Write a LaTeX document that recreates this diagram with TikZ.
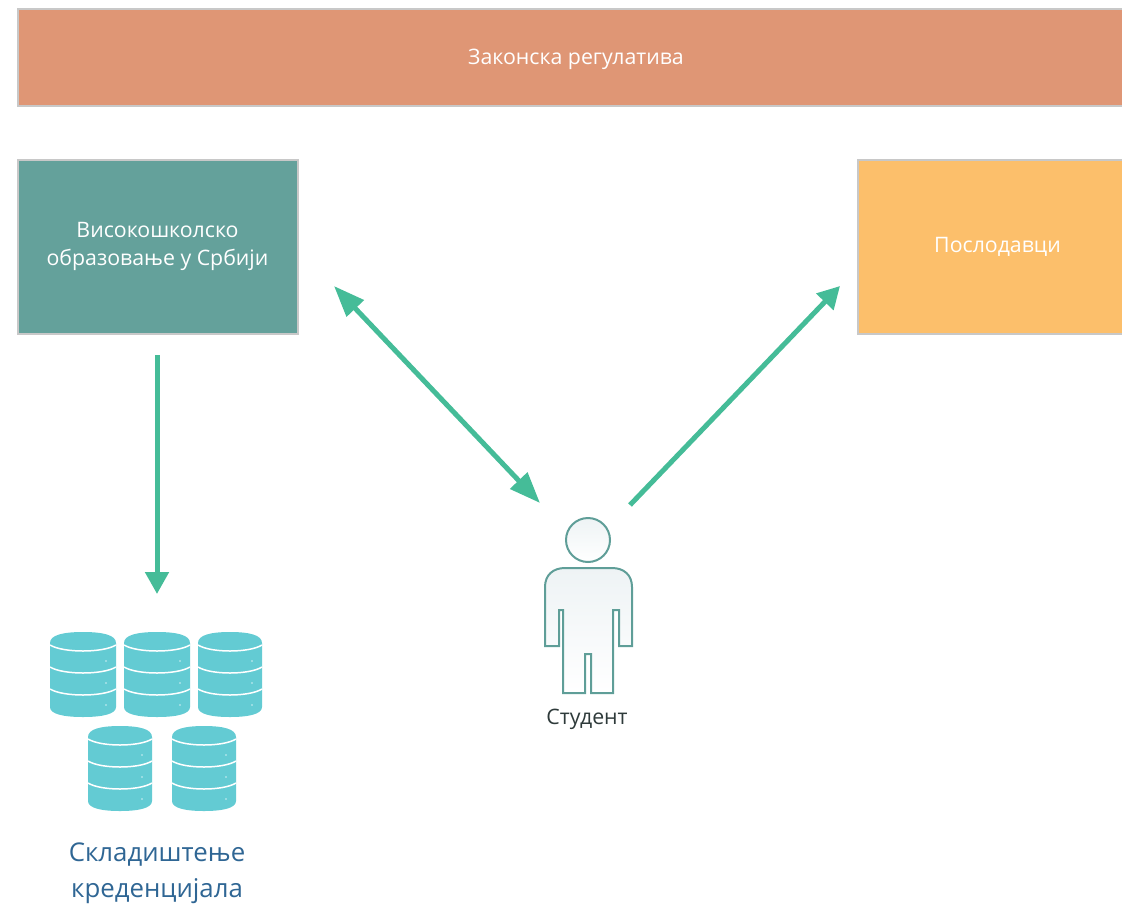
\documentclass[tikz,border=0pt]{standalone}
\usepackage{fontspec}
\setmainfont{Open Sans}
\usetikzlibrary{arrows.meta}
\definecolor{bandc}{HTML}{DF9675}
\definecolor{tealc}{HTML}{64A19B}
\definecolor{yellowc}{HTML}{FCBF6B}
\definecolor{edgec}{HTML}{C8C8C8}
\definecolor{arrowc}{HTML}{45BC98}
\definecolor{dbc}{HTML}{63CBD3}
\definecolor{personc}{HTML}{5F9E98}
\definecolor{bluec}{HTML}{2F6694}
\definecolor{textc}{HTML}{2E3A3A}
\definecolor{personf}{HTML}{EEF3F5}
\tikzset{
  boxn/.style={draw=edgec,line width=2pt,text=white,align=center,font=\fontsize{21.3}{28}\selectfont,inner sep=0pt,anchor=north west},
  flow/.style={draw=arrowc,line width=5pt,-{Triangle[length=22pt,width=23pt]}},
  flowb/.style={draw=arrowc,line width=5pt,{Triangle[length=31pt,width=23pt]}-{Triangle[length=31pt,width=23pt]}},
  pers/.style={draw=personc,line width=2pt,shade,top color=personf,bottom color=white},
  dbline/.style={draw=white,line width=1.5pt},
  pics/dbicon/.style n args={1}{code={
    \fill[dbc] (0,11) .. controls (0,3) and (#1*.2,0) .. (#1*.5,0) .. controls (#1*.8,0) and (#1,3) .. (#1,11)
      -- (#1,75) .. controls (#1,82) and (#1*.8,85) .. (#1*.5,85) .. controls (#1*.2,85) and (0,82) .. (0,75) -- cycle;
    \foreach \dy in {0,22,44}{
      \draw[dbline] (0,13+\dy) .. controls (#1*.2,21+\dy) and (#1*.8,21+\dy) .. (#1,13+\dy);
      \fill[white,opacity=.7] (#1-10,29+\dy) circle (0.8pt);
    }
  }}
}
\begin{document}
\begin{tikzpicture}[x=1pt,y=-1pt]
\useasboundingbox (0,0) rectangle (1122,903);
\node[boxn,fill=bandc,minimum width=1108pt,minimum height=97pt] (reg) at (16.5,7.5) {};
\node[text=white,font=\fontsize{21.3}{28}\selectfont] (regt) at (576,59) {Законска регулатива};
\node[boxn,fill=tealc,minimum width=280pt,minimum height=174pt] (vo) at (16.5,158.5) {Високошколско\\образовање у Србији};
\node[boxn,fill=yellowc,minimum width=279pt,minimum height=174pt] (pos) at (857,158.5) {Послодавци};
% storage icons
\pic at (50,632) {dbicon={66}};
\pic at (124,632) {dbicon={66}};
\pic at (198,632) {dbicon={64}};
\pic at (88,726) {dbicon={64}};
\pic at (172,726) {dbicon={64}};
\node[text=bluec,align=center,font=\fontsize{25.8}{36}\selectfont] (skl) at (157,873) {Складиштење\\креденцијала};
% student
\draw[pers] (588,540) circle (22);
\draw[pers] (545,646) -- (545,587) .. controls (545,575) and (553,568) .. (565,568) -- (612,568)
  .. controls (624,568) and (632,575) .. (632,587) -- (632,646) -- (619,646) -- (619,610) -- (613,610)
  -- (613,693) -- (591,693) -- (591,654) -- (585,654) -- (585,693) -- (563,693) -- (563,610) -- (559,610)
  -- (559,646) -- cycle;
\node[text=textc,font=\fontsize{21.3}{24}\selectfont] (st) at (587,719) {Студент};
% connector ends
\coordinate (a1) at (157,355);
\coordinate (a2) at (157,594);
\coordinate (b1) at (334,286);
\coordinate (b2) at (540,503);
\coordinate (c1) at (630,505);
\coordinate (c2) at (840,286);
\draw[flow] (a1) -- (a2);
\draw[flowb] (b1) -- (b2);
\draw[flow] (c1) -- (c2);
\end{tikzpicture}
\end{document}
